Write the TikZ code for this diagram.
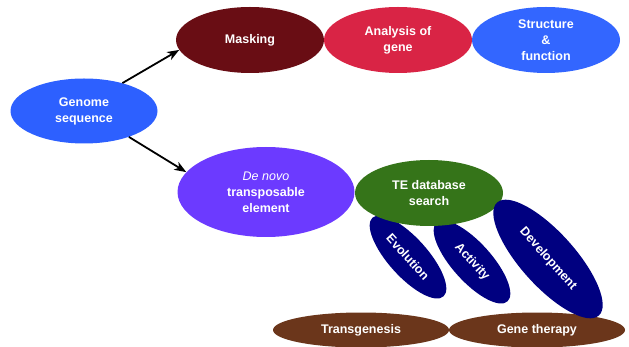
\documentclass[tikz,border=0pt]{standalone}
\usepackage{fontspec}
\setmainfont{Liberation Sans}
\usetikzlibrary{shapes.geometric,arrows.meta}

\definecolor{genomeblue}{RGB}{45,96,255}
\definecolor{maskred}{RGB}{105,13,20}
\definecolor{generose}{RGB}{217,36,69}
\definecolor{structblue}{RGB}{51,102,255}
\definecolor{novoviolet}{RGB}{108,58,255}
\definecolor{tegreen}{RGB}{53,116,25}
\definecolor{usenavy}{RGB}{0,0,128}
\definecolor{applbrown}{RGB}{107,54,27}

\begin{document}
\begin{tikzpicture}[
x=1pt,y=-1pt,
bubble/.style={
  ellipse,
  fill=#1,
  inner sep=0pt,
  text=white,
  align=center,
  font=\bfseries\fontsize{12.5}{16}\selectfont,
  minimum width=148pt,
  minimum height=66pt
},
tilt/.style={
  bubble=usenavy,
  rotate=-48,
  minimum width=106pt,
  minimum height=39pt
},
flat/.style={
  bubble=applbrown,
  minimum width=176pt,
  minimum height=35pt
},
link/.style={
  line width=1.8pt,
  -{Stealth[length=12pt,width=9pt,inset=3.5pt]}
}
]
\useasboundingbox (0,0) rectangle (629,347);

\node[bubble=genomeblue,minimum width=147pt,minimum height=65pt] at (84,111)
  (genome) {Genome\\sequence};

% top row
\node[bubble=maskred] at (250,40) (masking) {Masking};
\node[bubble=generose] at (398,40) (analysis) {Analysis of\\gene};
\node[bubble=structblue] at (546,40) (structure) {Structure\\\&\\function};

% lower branch
\node[flat] at (361,330) (transgenesis) {Transgenesis};
\node[flat] at (537,330) (therapy) {Gene therapy};
\node[tilt] at (408,257) (evolution) {Evolution};
\node[tilt] at (472,262) (activity) {Activity};
\node[bubble=novoviolet,minimum width=177pt,minimum height=90pt] at (266,192)
  (denovo) {{\mdseries\itshape De novo}\\transposable\\element};
\node[bubble=tegreen] at (429,193) (tesearch) {TE database\\search};
\node[tilt,minimum width=152pt,minimum height=54pt] at (548,259)
  (development) {Development};

\draw[link] (genome.36) -- (masking.188);
\draw[link] (genome.-30) -- (denovo.166);
\end{tikzpicture}
\end{document}
